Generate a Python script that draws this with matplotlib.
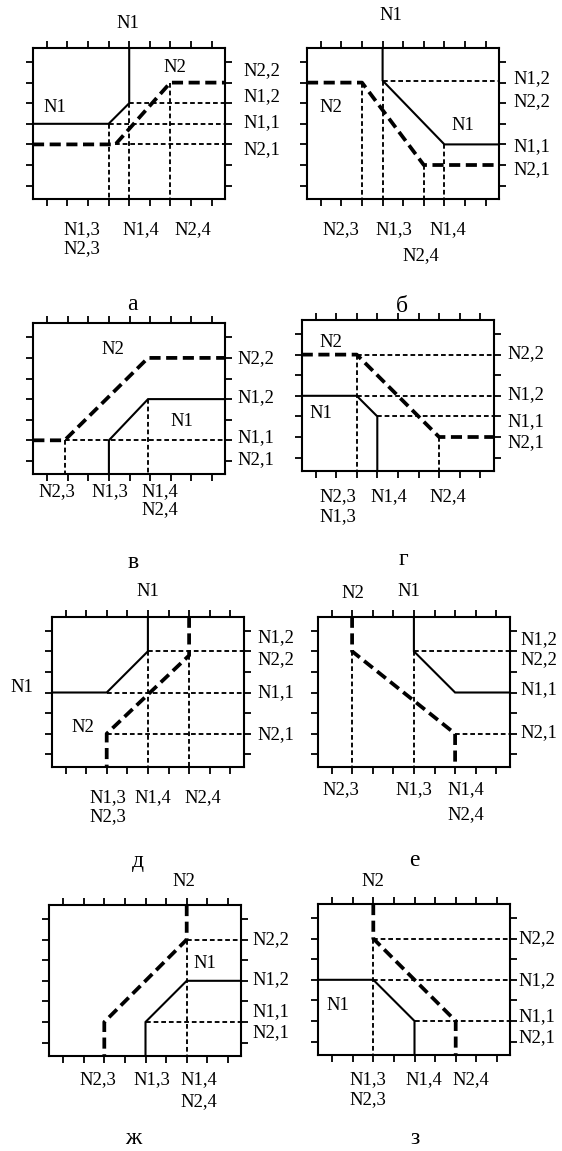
import matplotlib
matplotlib.use('Agg')
import matplotlib.pyplot as plt

plt.rcParams['font.family'] = ['Liberation Serif', 'DejaVu Serif']
plt.rcParams['lines.scale_dashes'] = False

W, H = 562, 1151
S = 20.6  # pixels per grid unit

# grid limits of every panel box
XL, XR, YB, YT = 0.33, 9.65, 0.37, 7.68
X_TICKS = [1, 2, 3, 4, 5, 6, 7, 8, 9]
Y_TICKS = [1, 2, 3, 4, 5, 6, 7]

# ---------------- data (grid units) ----------------
# panel а
A_SOLID_X = [5, 5, 4, XL]
A_SOLID_Y = [YT, 5, 4, 4]
A_DASH_X = [XL, 4.33, 7, XR]
A_DASH_Y = [3, 3, 6, 6]
A_GUIDES = [([5, XR], [5, 5]), ([4, XR], [4, 4]), ([4.33, XR], [3, 3]),
            ([4, 4], [4, YB]), ([5, 5], [5, YB]), ([7, 7], [6, YB])]
# panel б
B_SOLID_X = [4, 4, 7, XR]
B_SOLID_Y = [YT, 6.1, 3, 3]
B_DASH_X = [XL, 3, 6, XR]
B_DASH_Y = [6, 6, 2, 2]
B_GUIDES = [([4, XR], [6.1, 6.1]), ([3, 3], [6, YB]), ([4, 4], [6.1, YB]),
            ([6, 6], [2, YB]), ([7, 7], [3, YB])]
# panel в
V_SOLID_X = [4, 4, 5.9, XR]
V_SOLID_Y = [YB, 2, 4, 4]
V_DASH_X = [XL, 1.85, 5.9, XR]
V_DASH_Y = [2, 2, 6, 6]
V_GUIDES = [([1.85, XR], [2, 2]), ([1.85, 1.85], [2, YB]), ([5.9, 5.9], [4, YB])]
# panel г
G_SOLID_X = [XL, 3, 4, 4]
G_SOLID_Y = [4, 4, 3, YB]
G_DASH_X = [XL, 3, 7, XR]
G_DASH_Y = [6, 6, 2, 2]
G_GUIDES = [([3, XR], [6, 6]), ([3, XR], [4, 4]), ([4, XR], [3, 3]),
            ([3, 3], [6, YB]), ([7, 7], [2, YB])]
# panel д
D_SOLID_X = [5, 5, 3, XL]
D_SOLID_Y = [YT, 6, 4, 4]
D_DASH_X = [7, 7, 3, 3]
D_DASH_Y = [YT, 5.8, 2, YB]
D_GUIDES = [([5, XR], [6, 6]), ([3, XR], [4, 4]), ([3, XR], [2, 2]),
            ([5, 5], [6, YB]), ([7, 7], [5.8, YB])]
# panel е
E_SOLID_X = [5, 5, 7, XR]
E_SOLID_Y = [YT, 6, 4, 4]
E_DASH_X = [2, 2, 7, 7]
E_DASH_Y = [YT, 6, 2, YB]
E_GUIDES = [([5, XR], [6, 6]), ([7, XR], [2, 2]), ([2, 2], [6, YB]), ([5, 5], [6, YB])]
# panel ж
ZH_SOLID_X = [5, 5, 7, XR]
ZH_SOLID_Y = [YB, 2, 4, 4]
ZH_DASH_X = [7, 7, 3, 3]
ZH_DASH_Y = [YT, 6, 2, YB]
ZH_GUIDES = [([7, XR], [6, 6]), ([5, XR], [2, 2]), ([7, 7], [6, YB])]
# panel з
Z_SOLID_X = [XL, 3, 5, 5]
Z_SOLID_Y = [4, 4, 2, YB]
Z_DASH_X = [3, 3, 7, 7]
Z_DASH_Y = [YT, 6, 2, YB]
Z_GUIDES = [([3, XR], [6, 6]), ([3, XR], [4, 4]), ([5, XR], [2, 2]), ([3, 3], [6, YB])]

# ---------------- layout (pixels) ----------------
# box top-left corners
BOXES = [(33, 48), (307, 48), (33.3, 323.3), (301.7, 320),
         (51.7, 616.7), (317.7, 616.7), (49.3, 905), (318.3, 904)]

PANELS = [
    (A_SOLID_X, A_SOLID_Y, A_DASH_X, A_DASH_Y, A_GUIDES),
    (B_SOLID_X, B_SOLID_Y, B_DASH_X, B_DASH_Y, B_GUIDES),
    (V_SOLID_X, V_SOLID_Y, V_DASH_X, V_DASH_Y, V_GUIDES),
    (G_SOLID_X, G_SOLID_Y, G_DASH_X, G_DASH_Y, G_GUIDES),
    (D_SOLID_X, D_SOLID_Y, D_DASH_X, D_DASH_Y, D_GUIDES),
    (E_SOLID_X, E_SOLID_Y, E_DASH_X, E_DASH_Y, E_GUIDES),
    (ZH_SOLID_X, ZH_SOLID_Y, ZH_DASH_X, ZH_DASH_Y, ZH_GUIDES),
    (Z_SOLID_X, Z_SOLID_Y, Z_DASH_X, Z_DASH_Y, Z_GUIDES),
]

CAPTIONS = [("а", 132, 305), ("б", 402, 306), ("в", 133, 562), ("г", 403, 560),
            ("д", 138, 861), ("е", 414, 861), ("ж", 133, 1139), ("з", 415, 1139)]

CENTER_LABELS = [
    # а
    ("N1", 128, 23), ("N2", 175, 68), ("N1", 55, 107),
    ("N1,3", 82, 230), ("N2,3", 82, 249), ("N1,4", 141, 230), ("N2,4", 193, 230),
    # б
    ("N1", 391, 15), ("N2", 331, 107), ("N1", 463, 126),
    ("N2,3", 341, 230), ("N1,3", 394, 230), ("N1,4", 448, 230), ("N2,4", 421, 256),
    # в
    ("N2", 113, 350), ("N1", 182, 422),
    ("N2,3", 57, 492), ("N1,3", 110, 492), ("N1,4", 160, 492), ("N2,4", 160, 510),
    # г
    ("N2", 331, 342), ("N1", 321, 413),
    ("N2,3", 338, 497), ("N1,3", 338, 517), ("N1,4", 389, 497), ("N2,4", 448, 497),
    # д
    ("N1", 148, 592), ("N1", 22, 688), ("N2", 83, 728),
    ("N1,3", 108, 798), ("N2,3", 108, 817), ("N1,4", 153, 798), ("N2,4", 203, 798),
    # е
    ("N2", 353, 593), ("N1", 409, 592),
    ("N2,3", 341, 790), ("N1,3", 414, 790), ("N1,4", 466, 790), ("N2,4", 466, 815),
    # ж
    ("N2", 184, 882), ("N1", 205, 963),
    ("N2,3", 98, 1080), ("N1,3", 152, 1080), ("N1,4", 199, 1080), ("N2,4", 199, 1102),
    # з
    ("N2", 373, 882), ("N1", 338, 1006),
    ("N1,3", 368, 1080), ("N2,3", 368, 1100), ("N1,4", 424, 1080), ("N2,4", 471, 1080),
]

RIGHT_LABELS = [
    ("N2,2", 243, 71), ("N1,2", 243, 97), ("N1,1", 243, 123), ("N2,1", 243, 150),
    ("N1,2", 513, 79), ("N2,2", 513, 102), ("N1,1", 513, 147), ("N2,1", 513, 170),
    ("N2,2", 237, 359), ("N1,2", 237, 398), ("N1,1", 237, 438), ("N2,1", 237, 460),
    ("N2,2", 507, 354), ("N1,2", 507, 395), ("N1,1", 507, 422), ("N2,1", 507, 443),
    ("N1,2", 257, 638), ("N2,2", 257, 660), ("N1,1", 257, 693), ("N2,1", 257, 735),
    ("N1,2", 520, 640), ("N2,2", 520, 660), ("N1,1", 520, 690), ("N2,1", 520, 733),
    ("N2,2", 252, 940), ("N1,2", 252, 980), ("N1,1", 252, 1012), ("N2,1", 252, 1033),
    ("N2,2", 518, 939), ("N1,2", 518, 981), ("N1,1", 518, 1017), ("N2,1", 518, 1038),
]

LABEL_SIZE = 13.4
CAPTION_SIZE = 17

fig = plt.figure(figsize=(W / 100, H / 100), dpi=100)
fig.patch.set_facecolor('white')

bw = (XR - XL) * S
bh = (YT - YB) * S

for (left, top), (sx, sy, dx, dy, guides) in zip(BOXES, PANELS):
    ax = fig.add_axes([left / W, 1 - (top + bh) / H, bw / W, bh / H])
    ax.set_xlim(XL, XR)
    ax.set_ylim(YB, YT)
    ax.set_xticks(X_TICKS)
    ax.set_yticks(Y_TICKS)
    ax.tick_params(direction='out', length=5.2, width=1.3, color='black',
                   top=True, bottom=True, left=True, right=True,
                   labelbottom=False, labelleft=False, labeltop=False, labelright=False)
    for sp in ax.spines.values():
        sp.set_linewidth(1.5)
        sp.set_color('black')
    for gx, gy in guides:
        ax.plot(gx, gy, color='black', lw=1.35, dashes=(3.4, 2.1), zorder=2,
                solid_capstyle='butt', dash_capstyle='butt')
    ax.plot(sx, sy, color='black', lw=1.5, zorder=3, solid_joinstyle='miter')
    ax.plot(dx, dy, color='black', lw=2.7, dashes=(8, 4), zorder=4,
            dash_capstyle='butt')


def fpos(x, y):
    return x / W, 1 - y / H


for t, x, y in CENTER_LABELS:
    fig.text(*fpos(x, y), t, ha='center', va='center', fontsize=LABEL_SIZE)
for t, x, y in RIGHT_LABELS:
    fig.text(*fpos(x, y), t, ha='left', va='center', fontsize=LABEL_SIZE)
for t, x, y in CAPTIONS:
    fig.text(*fpos(x, y), t, ha='center', va='center', fontsize=CAPTION_SIZE)

fig.savefig('out.png', dpi=100, facecolor='white')
